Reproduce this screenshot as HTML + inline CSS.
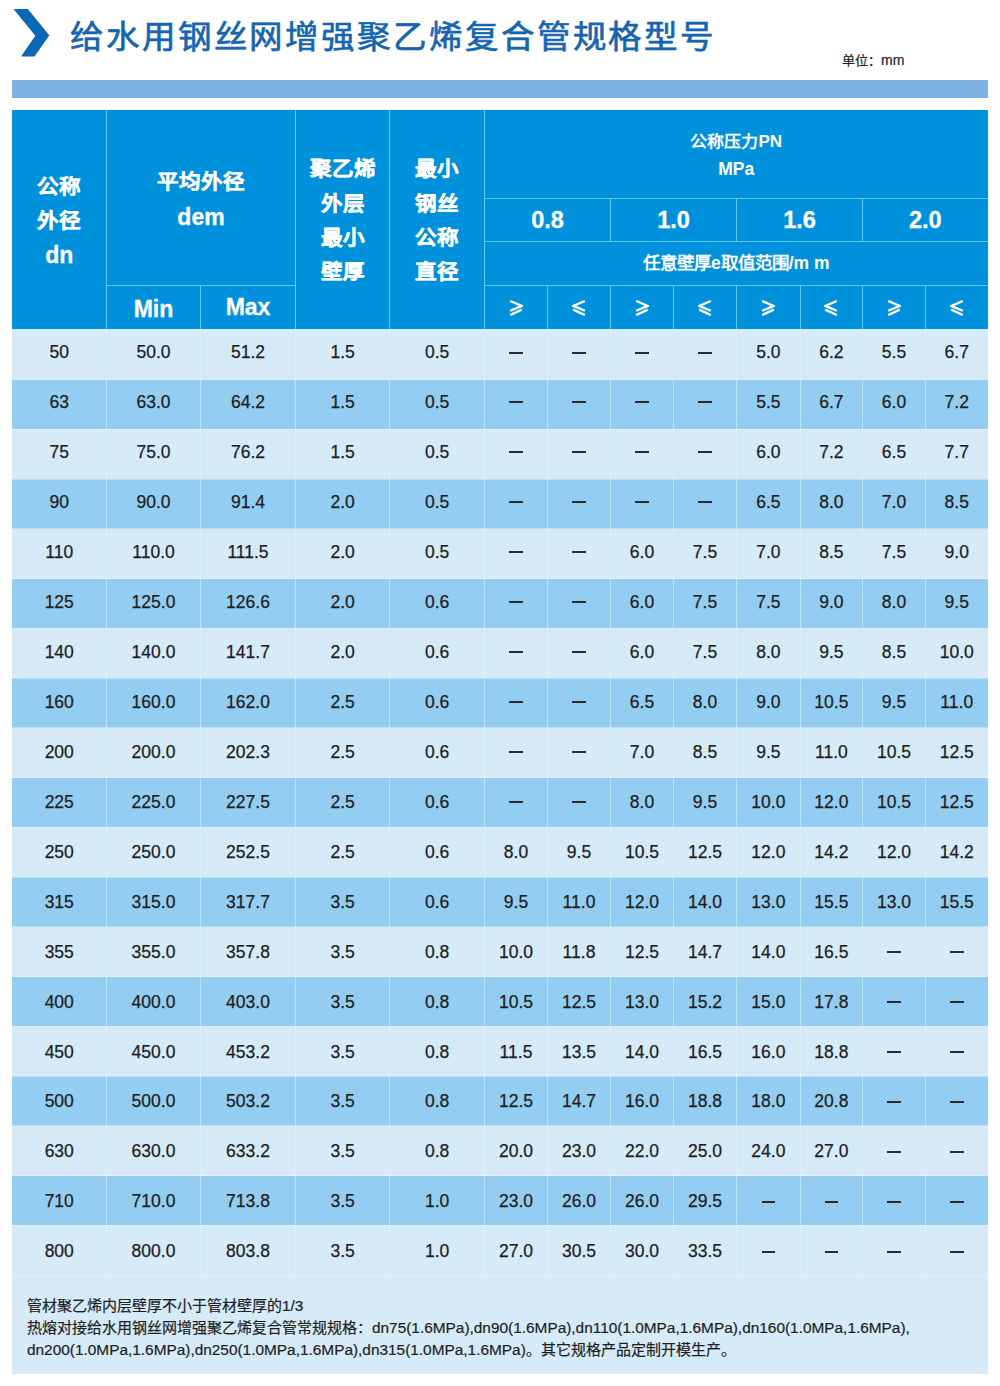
<!DOCTYPE html>
<html lang="zh-CN"><head><meta charset="utf-8"><title>给水用钢丝网增强聚乙烯复合管规格型号</title>
<style>
html,body{margin:0;padding:0;background:#fff;}
body{width:1000px;height:1386px;position:relative;overflow:hidden;font-family:"Liberation Sans",sans-serif;}
.a{position:absolute;}
.t{position:absolute;text-align:center;white-space:nowrap;}
.h{color:#fff;font-weight:bold;}
.d{color:#1e1e1e;font-size:17.5px;line-height:20px;-webkit-text-stroke:0.25px #1e1e1e;}
.dash{position:absolute;height:2px;background:#2c2c2c;}
.lat{font-size:15.4px;}
</style></head><body>

<svg class="a" style="left:0;top:0" width="60" height="64"><polygon points="13.5,9 27.8,9 49.3,35.3 34.5,56.5 21,56.5 35.3,35.7" fill="#0b68b6"/></svg>
<div class="a" style="left:70px;top:14.8px;font-size:33.5px;line-height:46px;letter-spacing:2.9px;color:#1665b0;-webkit-text-stroke:0.7px #1665b0;white-space:nowrap;transform:scaleY(0.95);transform-origin:50% 20px">给水用钢丝网增强聚乙烯复合管规格型号</div>
<div class="a" style="left:842px;top:49.5px;font-size:13px;line-height:20px;color:#222;-webkit-text-stroke:0.2px #222;white-space:nowrap">单位：<span style="font-size:14px">mm</span></div>
<div class="a" style="left:12px;top:80px;width:976px;height:18px;background:#80b2e1"></div>
<div class="a" style="left:12px;top:110px;width:976px;height:219px;background:#0091dc"></div>
<div class="a" style="left:12px;top:329px;width:976px;height:50.74px;background:#d6eaf8"></div>
<div class="a" style="left:12px;top:379.74px;width:976px;height:49.74px;background:#93cdf2"></div>
<div class="a" style="left:12px;top:429.47px;width:976px;height:49.74px;background:#d6eaf8"></div>
<div class="a" style="left:12px;top:479.21px;width:976px;height:49.74px;background:#93cdf2"></div>
<div class="a" style="left:12px;top:528.95px;width:976px;height:49.74px;background:#d6eaf8"></div>
<div class="a" style="left:12px;top:578.68px;width:976px;height:49.74px;background:#93cdf2"></div>
<div class="a" style="left:12px;top:628.42px;width:976px;height:49.74px;background:#d6eaf8"></div>
<div class="a" style="left:12px;top:678.16px;width:976px;height:49.74px;background:#93cdf2"></div>
<div class="a" style="left:12px;top:727.89px;width:976px;height:49.74px;background:#d6eaf8"></div>
<div class="a" style="left:12px;top:777.63px;width:976px;height:49.74px;background:#93cdf2"></div>
<div class="a" style="left:12px;top:827.37px;width:976px;height:49.74px;background:#d6eaf8"></div>
<div class="a" style="left:12px;top:877.11px;width:976px;height:49.74px;background:#93cdf2"></div>
<div class="a" style="left:12px;top:926.84px;width:976px;height:49.74px;background:#d6eaf8"></div>
<div class="a" style="left:12px;top:976.58px;width:976px;height:49.74px;background:#93cdf2"></div>
<div class="a" style="left:12px;top:1026.32px;width:976px;height:49.74px;background:#d6eaf8"></div>
<div class="a" style="left:12px;top:1076.05px;width:976px;height:49.74px;background:#93cdf2"></div>
<div class="a" style="left:12px;top:1125.79px;width:976px;height:49.74px;background:#d6eaf8"></div>
<div class="a" style="left:12px;top:1175.53px;width:976px;height:49.74px;background:#93cdf2"></div>
<div class="a" style="left:12px;top:1225.26px;width:976px;height:49.74px;background:#d6eaf8"></div>
<div class="a" style="left:12px;top:1275px;width:976px;height:99px;background:#d6eaf8"></div>
<div class="a" style="left:106px;top:110px;width:1px;height:219px;background:#5ccaf9"></div>
<div class="a" style="left:295px;top:110px;width:1px;height:219px;background:#5ccaf9"></div>
<div class="a" style="left:389px;top:110px;width:1px;height:219px;background:#5ccaf9"></div>
<div class="a" style="left:484px;top:110px;width:1px;height:219px;background:#5ccaf9"></div>
<div class="a" style="left:200px;top:285px;width:1px;height:44px;background:#5ccaf9"></div>
<div class="a" style="left:106px;top:285px;width:189px;height:1px;background:#5ccaf9"></div>
<div class="a" style="left:484px;top:198px;width:504px;height:1px;background:#5ccaf9"></div>
<div class="a" style="left:484px;top:241px;width:504px;height:1px;background:#5ccaf9"></div>
<div class="a" style="left:484px;top:285px;width:504px;height:1px;background:#5ccaf9"></div>
<div class="a" style="left:610px;top:198px;width:1px;height:43px;background:#5ccaf9"></div>
<div class="a" style="left:736px;top:198px;width:1px;height:43px;background:#5ccaf9"></div>
<div class="a" style="left:862px;top:198px;width:1px;height:43px;background:#5ccaf9"></div>
<div class="a" style="left:547px;top:285px;width:1px;height:44px;background:#5ccaf9"></div>
<div class="a" style="left:610px;top:285px;width:1px;height:44px;background:#5ccaf9"></div>
<div class="a" style="left:673px;top:285px;width:1px;height:44px;background:#5ccaf9"></div>
<div class="a" style="left:736px;top:285px;width:1px;height:44px;background:#5ccaf9"></div>
<div class="a" style="left:800px;top:285px;width:1px;height:44px;background:#5ccaf9"></div>
<div class="a" style="left:862px;top:285px;width:1px;height:44px;background:#5ccaf9"></div>
<div class="a" style="left:925px;top:285px;width:1px;height:44px;background:#5ccaf9"></div>
<div class="a" style="left:106px;top:329px;width:1px;height:946px;background:rgba(215,250,255,0.55)"></div>
<div class="a" style="left:200px;top:329px;width:1px;height:946px;background:rgba(215,250,255,0.55)"></div>
<div class="a" style="left:295px;top:329px;width:1px;height:946px;background:rgba(215,250,255,0.55)"></div>
<div class="a" style="left:389px;top:329px;width:1px;height:946px;background:rgba(215,250,255,0.55)"></div>
<div class="a" style="left:484px;top:329px;width:1px;height:946px;background:rgba(215,250,255,0.55)"></div>
<div class="a" style="left:547px;top:329px;width:1px;height:946px;background:rgba(215,250,255,0.55)"></div>
<div class="a" style="left:610px;top:329px;width:1px;height:946px;background:rgba(215,250,255,0.55)"></div>
<div class="a" style="left:673px;top:329px;width:1px;height:946px;background:rgba(215,250,255,0.55)"></div>
<div class="a" style="left:736px;top:329px;width:1px;height:946px;background:rgba(215,250,255,0.55)"></div>
<div class="a" style="left:800px;top:329px;width:1px;height:946px;background:rgba(215,250,255,0.55)"></div>
<div class="a" style="left:862px;top:329px;width:1px;height:946px;background:rgba(215,250,255,0.55)"></div>
<div class="a" style="left:925px;top:329px;width:1px;height:946px;background:rgba(215,250,255,0.55)"></div>
<div class="a" style="left:12px;top:379px;width:976px;height:1px;background:rgba(255,255,255,0.35)"></div>
<div class="a" style="left:12px;top:429px;width:976px;height:1px;background:rgba(255,255,255,0.35)"></div>
<div class="a" style="left:12px;top:479px;width:976px;height:1px;background:rgba(255,255,255,0.35)"></div>
<div class="a" style="left:12px;top:528px;width:976px;height:1px;background:rgba(255,255,255,0.35)"></div>
<div class="a" style="left:12px;top:578px;width:976px;height:1px;background:rgba(255,255,255,0.35)"></div>
<div class="a" style="left:12px;top:628px;width:976px;height:1px;background:rgba(255,255,255,0.35)"></div>
<div class="a" style="left:12px;top:678px;width:976px;height:1px;background:rgba(255,255,255,0.35)"></div>
<div class="a" style="left:12px;top:727px;width:976px;height:1px;background:rgba(255,255,255,0.35)"></div>
<div class="a" style="left:12px;top:777px;width:976px;height:1px;background:rgba(255,255,255,0.35)"></div>
<div class="a" style="left:12px;top:827px;width:976px;height:1px;background:rgba(255,255,255,0.35)"></div>
<div class="a" style="left:12px;top:877px;width:976px;height:1px;background:rgba(255,255,255,0.35)"></div>
<div class="a" style="left:12px;top:926px;width:976px;height:1px;background:rgba(255,255,255,0.35)"></div>
<div class="a" style="left:12px;top:976px;width:976px;height:1px;background:rgba(255,255,255,0.35)"></div>
<div class="a" style="left:12px;top:1026px;width:976px;height:1px;background:rgba(255,255,255,0.35)"></div>
<div class="a" style="left:12px;top:1076px;width:976px;height:1px;background:rgba(255,255,255,0.35)"></div>
<div class="a" style="left:12px;top:1125px;width:976px;height:1px;background:rgba(255,255,255,0.35)"></div>
<div class="a" style="left:12px;top:1175px;width:976px;height:1px;background:rgba(255,255,255,0.35)"></div>
<div class="a" style="left:12px;top:1225px;width:976px;height:1px;background:rgba(255,255,255,0.35)"></div>
<div class="a" style="left:12px;top:1275px;width:976px;height:1px;background:rgba(255,255,255,0.35)"></div>
<div class="a" style="left:12px;top:329px;width:976px;height:1px;background:#c4edfb"></div>
<div class="a" style="left:12px;top:330px;width:976px;height:1px;background:#daf1fb"></div>
<div class="t h" style="left:12px;width:94.5px;top:171.75px;font-size:21.5px;line-height:30px;transform:scaleY(0.94);-webkit-text-stroke:0.45px #fff;">公称</div>
<div class="t h" style="left:12px;width:94.5px;top:206px;font-size:21.5px;line-height:30px;transform:scaleY(0.94);-webkit-text-stroke:0.45px #fff;">外径</div>
<div class="t h" style="left:12px;width:94.5px;top:240.25px;font-size:23px;line-height:30px;-webkit-text-stroke:0.3px #fff;">dn</div>
<div class="t h" style="left:106.5px;width:189px;top:167.25px;font-size:21.5px;line-height:30px;transform:scaleY(0.94);-webkit-text-stroke:0.45px #fff;">平均外径</div>
<div class="t h" style="left:106.5px;width:189px;top:201.5px;font-size:23px;line-height:30px;-webkit-text-stroke:0.3px #fff;">dem</div>
<div class="t h" style="left:106.5px;width:94px;top:293.5px;font-size:23px;line-height:30px;-webkit-text-stroke:0.3px #fff;">Min</div>
<div class="t h" style="left:200.5px;width:95px;top:292px;font-size:23px;line-height:30px;-webkit-text-stroke:0.3px #fff;">Max</div>
<div class="t h" style="left:295.5px;width:94.3px;top:153.75px;font-size:21.5px;line-height:30px;transform:scaleY(0.94);-webkit-text-stroke:0.45px #fff;">聚乙烯</div>
<div class="t h" style="left:389.8px;width:94.7px;top:154px;font-size:21.5px;line-height:30px;transform:scaleY(0.94);-webkit-text-stroke:0.45px #fff;">最小</div>
<div class="t h" style="left:295.5px;width:94.3px;top:188.75px;font-size:21.5px;line-height:30px;transform:scaleY(0.94);-webkit-text-stroke:0.45px #fff;">外层</div>
<div class="t h" style="left:389.8px;width:94.7px;top:189px;font-size:21.5px;line-height:30px;transform:scaleY(0.94);-webkit-text-stroke:0.45px #fff;">钢丝</div>
<div class="t h" style="left:295.5px;width:94.3px;top:222.75px;font-size:21.5px;line-height:30px;transform:scaleY(0.94);-webkit-text-stroke:0.45px #fff;">最小</div>
<div class="t h" style="left:389.8px;width:94.7px;top:223px;font-size:21.5px;line-height:30px;transform:scaleY(0.94);-webkit-text-stroke:0.45px #fff;">公称</div>
<div class="t h" style="left:295.5px;width:94.3px;top:257.25px;font-size:21.5px;line-height:30px;transform:scaleY(0.94);-webkit-text-stroke:0.45px #fff;">壁厚</div>
<div class="t h" style="left:389.8px;width:94.7px;top:257px;font-size:21.5px;line-height:30px;transform:scaleY(0.94);-webkit-text-stroke:0.45px #fff;">直径</div>
<div class="t h" style="left:484.5px;width:503.5px;top:127px;font-size:17px;line-height:30px;transform:scaleY(0.94);">公称压力PN</div>
<div class="t h" style="left:484.5px;width:503.5px;top:154px;font-size:17.5px;line-height:30px;">MPa</div>
<div class="t h" style="left:484.5px;width:126px;top:205.25px;font-size:23.5px;line-height:30px;-webkit-text-stroke:0.3px #fff;">0.8</div>
<div class="t h" style="left:610.5px;width:126px;top:205.25px;font-size:23.5px;line-height:30px;-webkit-text-stroke:0.3px #fff;">1.0</div>
<div class="t h" style="left:736.5px;width:126px;top:205.25px;font-size:23.5px;line-height:30px;-webkit-text-stroke:0.3px #fff;">1.6</div>
<div class="t h" style="left:862.5px;width:125.5px;top:205.25px;font-size:23.5px;line-height:30px;-webkit-text-stroke:0.3px #fff;">2.0</div>
<div class="t h" style="left:484.5px;width:503.5px;top:248px;font-size:17.5px;line-height:30px;">任意壁厚e取值范围/m m</div>
<div class="a" style="left:509px;top:300px;width:14px;height:16px"><svg width="14" height="16" viewBox="0 0 14 16"><path d="M1.2 1 L12.8 5.9 L1.2 10.8 M1.2 15 L12.8 9.6" stroke="#fff" stroke-width="2.3" fill="none"/></svg></div>
<div class="a" style="left:572px;top:300px;width:14px;height:16px"><svg width="14" height="16" viewBox="0 0 14 16"><path d="M12.8 1 L1.2 5.9 L12.8 10.8 M12.8 15 L1.2 9.6" stroke="#fff" stroke-width="2.3" fill="none"/></svg></div>
<div class="a" style="left:635px;top:300px;width:14px;height:16px"><svg width="14" height="16" viewBox="0 0 14 16"><path d="M1.2 1 L12.8 5.9 L1.2 10.8 M1.2 15 L12.8 9.6" stroke="#fff" stroke-width="2.3" fill="none"/></svg></div>
<div class="a" style="left:698px;top:300px;width:14px;height:16px"><svg width="14" height="16" viewBox="0 0 14 16"><path d="M12.8 1 L1.2 5.9 L12.8 10.8 M12.8 15 L1.2 9.6" stroke="#fff" stroke-width="2.3" fill="none"/></svg></div>
<div class="a" style="left:761.4px;top:300px;width:14px;height:16px"><svg width="14" height="16" viewBox="0 0 14 16"><path d="M1.2 1 L12.8 5.9 L1.2 10.8 M1.2 15 L12.8 9.6" stroke="#fff" stroke-width="2.3" fill="none"/></svg></div>
<div class="a" style="left:824.4px;top:300px;width:14px;height:16px"><svg width="14" height="16" viewBox="0 0 14 16"><path d="M12.8 1 L1.2 5.9 L12.8 10.8 M12.8 15 L1.2 9.6" stroke="#fff" stroke-width="2.3" fill="none"/></svg></div>
<div class="a" style="left:887px;top:300px;width:14px;height:16px"><svg width="14" height="16" viewBox="0 0 14 16"><path d="M1.2 1 L12.8 5.9 L1.2 10.8 M1.2 15 L12.8 9.6" stroke="#fff" stroke-width="2.3" fill="none"/></svg></div>
<div class="a" style="left:949.75px;top:300px;width:14px;height:16px"><svg width="14" height="16" viewBox="0 0 14 16"><path d="M12.8 1 L1.2 5.9 L12.8 10.8 M12.8 15 L1.2 9.6" stroke="#fff" stroke-width="2.3" fill="none"/></svg></div>
<div class="t d" style="left:12px;width:94.5px;top:342.07px">50</div>
<div class="t d" style="left:106.5px;width:94px;top:342.07px">50.0</div>
<div class="t d" style="left:200.5px;width:95px;top:342.07px">51.2</div>
<div class="t d" style="left:295.5px;width:94.3px;top:342.07px">1.5</div>
<div class="t d" style="left:389.8px;width:94.7px;top:342.07px">0.5</div>
<div class="dash" style="left:509.2px;top:352px;width:13.6px"></div>
<div class="dash" style="left:572.2px;top:352px;width:13.6px"></div>
<div class="dash" style="left:635.2px;top:352px;width:13.6px"></div>
<div class="dash" style="left:698.2px;top:352px;width:13.6px"></div>
<div class="t d" style="left:736.5px;width:63.8px;top:342.07px">5.0</div>
<div class="t d" style="left:800.3px;width:62.2px;top:342.07px">6.2</div>
<div class="t d" style="left:862.5px;width:63px;top:342.07px">5.5</div>
<div class="t d" style="left:925.5px;width:62.5px;top:342.07px">6.7</div>
<div class="t d" style="left:12px;width:94.5px;top:392.03px">63</div>
<div class="t d" style="left:106.5px;width:94px;top:392.03px">63.0</div>
<div class="t d" style="left:200.5px;width:95px;top:392.03px">64.2</div>
<div class="t d" style="left:295.5px;width:94.3px;top:392.03px">1.5</div>
<div class="t d" style="left:389.8px;width:94.7px;top:392.03px">0.5</div>
<div class="dash" style="left:509.2px;top:401px;width:13.6px"></div>
<div class="dash" style="left:572.2px;top:401px;width:13.6px"></div>
<div class="dash" style="left:635.2px;top:401px;width:13.6px"></div>
<div class="dash" style="left:698.2px;top:401px;width:13.6px"></div>
<div class="t d" style="left:736.5px;width:63.8px;top:392.03px">5.5</div>
<div class="t d" style="left:800.3px;width:62.2px;top:392.03px">6.7</div>
<div class="t d" style="left:862.5px;width:63px;top:392.03px">6.0</div>
<div class="t d" style="left:925.5px;width:62.5px;top:392.03px">7.2</div>
<div class="t d" style="left:12px;width:94.5px;top:441.99px">75</div>
<div class="t d" style="left:106.5px;width:94px;top:441.99px">75.0</div>
<div class="t d" style="left:200.5px;width:95px;top:441.99px">76.2</div>
<div class="t d" style="left:295.5px;width:94.3px;top:441.99px">1.5</div>
<div class="t d" style="left:389.8px;width:94.7px;top:441.99px">0.5</div>
<div class="dash" style="left:509.2px;top:451px;width:13.6px"></div>
<div class="dash" style="left:572.2px;top:451px;width:13.6px"></div>
<div class="dash" style="left:635.2px;top:451px;width:13.6px"></div>
<div class="dash" style="left:698.2px;top:451px;width:13.6px"></div>
<div class="t d" style="left:736.5px;width:63.8px;top:441.99px">6.0</div>
<div class="t d" style="left:800.3px;width:62.2px;top:441.99px">7.2</div>
<div class="t d" style="left:862.5px;width:63px;top:441.99px">6.5</div>
<div class="t d" style="left:925.5px;width:62.5px;top:441.99px">7.7</div>
<div class="t d" style="left:12px;width:94.5px;top:491.95px">90</div>
<div class="t d" style="left:106.5px;width:94px;top:491.95px">90.0</div>
<div class="t d" style="left:200.5px;width:95px;top:491.95px">91.4</div>
<div class="t d" style="left:295.5px;width:94.3px;top:491.95px">2.0</div>
<div class="t d" style="left:389.8px;width:94.7px;top:491.95px">0.5</div>
<div class="dash" style="left:509.2px;top:501px;width:13.6px"></div>
<div class="dash" style="left:572.2px;top:501px;width:13.6px"></div>
<div class="dash" style="left:635.2px;top:501px;width:13.6px"></div>
<div class="dash" style="left:698.2px;top:501px;width:13.6px"></div>
<div class="t d" style="left:736.5px;width:63.8px;top:491.95px">6.5</div>
<div class="t d" style="left:800.3px;width:62.2px;top:491.95px">8.0</div>
<div class="t d" style="left:862.5px;width:63px;top:491.95px">7.0</div>
<div class="t d" style="left:925.5px;width:62.5px;top:491.95px">8.5</div>
<div class="t d" style="left:12px;width:94.5px;top:541.91px">110</div>
<div class="t d" style="left:106.5px;width:94px;top:541.91px">110.0</div>
<div class="t d" style="left:200.5px;width:95px;top:541.91px">111.5</div>
<div class="t d" style="left:295.5px;width:94.3px;top:541.91px">2.0</div>
<div class="t d" style="left:389.8px;width:94.7px;top:541.91px">0.5</div>
<div class="dash" style="left:509.2px;top:551px;width:13.6px"></div>
<div class="dash" style="left:572.2px;top:551px;width:13.6px"></div>
<div class="t d" style="left:610.5px;width:63px;top:541.91px">6.0</div>
<div class="t d" style="left:673.5px;width:63px;top:541.91px">7.5</div>
<div class="t d" style="left:736.5px;width:63.8px;top:541.91px">7.0</div>
<div class="t d" style="left:800.3px;width:62.2px;top:541.91px">8.5</div>
<div class="t d" style="left:862.5px;width:63px;top:541.91px">7.5</div>
<div class="t d" style="left:925.5px;width:62.5px;top:541.91px">9.0</div>
<div class="t d" style="left:12px;width:94.5px;top:591.87px">125</div>
<div class="t d" style="left:106.5px;width:94px;top:591.87px">125.0</div>
<div class="t d" style="left:200.5px;width:95px;top:591.87px">126.6</div>
<div class="t d" style="left:295.5px;width:94.3px;top:591.87px">2.0</div>
<div class="t d" style="left:389.8px;width:94.7px;top:591.87px">0.6</div>
<div class="dash" style="left:509.2px;top:601px;width:13.6px"></div>
<div class="dash" style="left:572.2px;top:601px;width:13.6px"></div>
<div class="t d" style="left:610.5px;width:63px;top:591.87px">6.0</div>
<div class="t d" style="left:673.5px;width:63px;top:591.87px">7.5</div>
<div class="t d" style="left:736.5px;width:63.8px;top:591.87px">7.5</div>
<div class="t d" style="left:800.3px;width:62.2px;top:591.87px">9.0</div>
<div class="t d" style="left:862.5px;width:63px;top:591.87px">8.0</div>
<div class="t d" style="left:925.5px;width:62.5px;top:591.87px">9.5</div>
<div class="t d" style="left:12px;width:94.5px;top:641.83px">140</div>
<div class="t d" style="left:106.5px;width:94px;top:641.83px">140.0</div>
<div class="t d" style="left:200.5px;width:95px;top:641.83px">141.7</div>
<div class="t d" style="left:295.5px;width:94.3px;top:641.83px">2.0</div>
<div class="t d" style="left:389.8px;width:94.7px;top:641.83px">0.6</div>
<div class="dash" style="left:509.2px;top:651px;width:13.6px"></div>
<div class="dash" style="left:572.2px;top:651px;width:13.6px"></div>
<div class="t d" style="left:610.5px;width:63px;top:641.83px">6.0</div>
<div class="t d" style="left:673.5px;width:63px;top:641.83px">7.5</div>
<div class="t d" style="left:736.5px;width:63.8px;top:641.83px">8.0</div>
<div class="t d" style="left:800.3px;width:62.2px;top:641.83px">9.5</div>
<div class="t d" style="left:862.5px;width:63px;top:641.83px">8.5</div>
<div class="t d" style="left:925.5px;width:62.5px;top:641.83px">10.0</div>
<div class="t d" style="left:12px;width:94.5px;top:691.79px">160</div>
<div class="t d" style="left:106.5px;width:94px;top:691.79px">160.0</div>
<div class="t d" style="left:200.5px;width:95px;top:691.79px">162.0</div>
<div class="t d" style="left:295.5px;width:94.3px;top:691.79px">2.5</div>
<div class="t d" style="left:389.8px;width:94.7px;top:691.79px">0.6</div>
<div class="dash" style="left:509.2px;top:701px;width:13.6px"></div>
<div class="dash" style="left:572.2px;top:701px;width:13.6px"></div>
<div class="t d" style="left:610.5px;width:63px;top:691.79px">6.5</div>
<div class="t d" style="left:673.5px;width:63px;top:691.79px">8.0</div>
<div class="t d" style="left:736.5px;width:63.8px;top:691.79px">9.0</div>
<div class="t d" style="left:800.3px;width:62.2px;top:691.79px">10.5</div>
<div class="t d" style="left:862.5px;width:63px;top:691.79px">9.5</div>
<div class="t d" style="left:925.5px;width:62.5px;top:691.79px">11.0</div>
<div class="t d" style="left:12px;width:94.5px;top:741.75px">200</div>
<div class="t d" style="left:106.5px;width:94px;top:741.75px">200.0</div>
<div class="t d" style="left:200.5px;width:95px;top:741.75px">202.3</div>
<div class="t d" style="left:295.5px;width:94.3px;top:741.75px">2.5</div>
<div class="t d" style="left:389.8px;width:94.7px;top:741.75px">0.6</div>
<div class="dash" style="left:509.2px;top:751px;width:13.6px"></div>
<div class="dash" style="left:572.2px;top:751px;width:13.6px"></div>
<div class="t d" style="left:610.5px;width:63px;top:741.75px">7.0</div>
<div class="t d" style="left:673.5px;width:63px;top:741.75px">8.5</div>
<div class="t d" style="left:736.5px;width:63.8px;top:741.75px">9.5</div>
<div class="t d" style="left:800.3px;width:62.2px;top:741.75px">11.0</div>
<div class="t d" style="left:862.5px;width:63px;top:741.75px">10.5</div>
<div class="t d" style="left:925.5px;width:62.5px;top:741.75px">12.5</div>
<div class="t d" style="left:12px;width:94.5px;top:791.71px">225</div>
<div class="t d" style="left:106.5px;width:94px;top:791.71px">225.0</div>
<div class="t d" style="left:200.5px;width:95px;top:791.71px">227.5</div>
<div class="t d" style="left:295.5px;width:94.3px;top:791.71px">2.5</div>
<div class="t d" style="left:389.8px;width:94.7px;top:791.71px">0.6</div>
<div class="dash" style="left:509.2px;top:801px;width:13.6px"></div>
<div class="dash" style="left:572.2px;top:801px;width:13.6px"></div>
<div class="t d" style="left:610.5px;width:63px;top:791.71px">8.0</div>
<div class="t d" style="left:673.5px;width:63px;top:791.71px">9.5</div>
<div class="t d" style="left:736.5px;width:63.8px;top:791.71px">10.0</div>
<div class="t d" style="left:800.3px;width:62.2px;top:791.71px">12.0</div>
<div class="t d" style="left:862.5px;width:63px;top:791.71px">10.5</div>
<div class="t d" style="left:925.5px;width:62.5px;top:791.71px">12.5</div>
<div class="t d" style="left:12px;width:94.5px;top:841.67px">250</div>
<div class="t d" style="left:106.5px;width:94px;top:841.67px">250.0</div>
<div class="t d" style="left:200.5px;width:95px;top:841.67px">252.5</div>
<div class="t d" style="left:295.5px;width:94.3px;top:841.67px">2.5</div>
<div class="t d" style="left:389.8px;width:94.7px;top:841.67px">0.6</div>
<div class="t d" style="left:484.5px;width:63px;top:841.67px">8.0</div>
<div class="t d" style="left:547.5px;width:63px;top:841.67px">9.5</div>
<div class="t d" style="left:610.5px;width:63px;top:841.67px">10.5</div>
<div class="t d" style="left:673.5px;width:63px;top:841.67px">12.5</div>
<div class="t d" style="left:736.5px;width:63.8px;top:841.67px">12.0</div>
<div class="t d" style="left:800.3px;width:62.2px;top:841.67px">14.2</div>
<div class="t d" style="left:862.5px;width:63px;top:841.67px">12.0</div>
<div class="t d" style="left:925.5px;width:62.5px;top:841.67px">14.2</div>
<div class="t d" style="left:12px;width:94.5px;top:891.63px">315</div>
<div class="t d" style="left:106.5px;width:94px;top:891.63px">315.0</div>
<div class="t d" style="left:200.5px;width:95px;top:891.63px">317.7</div>
<div class="t d" style="left:295.5px;width:94.3px;top:891.63px">3.5</div>
<div class="t d" style="left:389.8px;width:94.7px;top:891.63px">0.6</div>
<div class="t d" style="left:484.5px;width:63px;top:891.63px">9.5</div>
<div class="t d" style="left:547.5px;width:63px;top:891.63px">11.0</div>
<div class="t d" style="left:610.5px;width:63px;top:891.63px">12.0</div>
<div class="t d" style="left:673.5px;width:63px;top:891.63px">14.0</div>
<div class="t d" style="left:736.5px;width:63.8px;top:891.63px">13.0</div>
<div class="t d" style="left:800.3px;width:62.2px;top:891.63px">15.5</div>
<div class="t d" style="left:862.5px;width:63px;top:891.63px">13.0</div>
<div class="t d" style="left:925.5px;width:62.5px;top:891.63px">15.5</div>
<div class="t d" style="left:12px;width:94.5px;top:941.59px">355</div>
<div class="t d" style="left:106.5px;width:94px;top:941.59px">355.0</div>
<div class="t d" style="left:200.5px;width:95px;top:941.59px">357.8</div>
<div class="t d" style="left:295.5px;width:94.3px;top:941.59px">3.5</div>
<div class="t d" style="left:389.8px;width:94.7px;top:941.59px">0.8</div>
<div class="t d" style="left:484.5px;width:63px;top:941.59px">10.0</div>
<div class="t d" style="left:547.5px;width:63px;top:941.59px">11.8</div>
<div class="t d" style="left:610.5px;width:63px;top:941.59px">12.5</div>
<div class="t d" style="left:673.5px;width:63px;top:941.59px">14.7</div>
<div class="t d" style="left:736.5px;width:63.8px;top:941.59px">14.0</div>
<div class="t d" style="left:800.3px;width:62.2px;top:941.59px">16.5</div>
<div class="dash" style="left:887.2px;top:951px;width:13.6px"></div>
<div class="dash" style="left:949.95px;top:951px;width:13.6px"></div>
<div class="t d" style="left:12px;width:94.5px;top:991.55px">400</div>
<div class="t d" style="left:106.5px;width:94px;top:991.55px">400.0</div>
<div class="t d" style="left:200.5px;width:95px;top:991.55px">403.0</div>
<div class="t d" style="left:295.5px;width:94.3px;top:991.55px">3.5</div>
<div class="t d" style="left:389.8px;width:94.7px;top:991.55px">0.8</div>
<div class="t d" style="left:484.5px;width:63px;top:991.55px">10.5</div>
<div class="t d" style="left:547.5px;width:63px;top:991.55px">12.5</div>
<div class="t d" style="left:610.5px;width:63px;top:991.55px">13.0</div>
<div class="t d" style="left:673.5px;width:63px;top:991.55px">15.2</div>
<div class="t d" style="left:736.5px;width:63.8px;top:991.55px">15.0</div>
<div class="t d" style="left:800.3px;width:62.2px;top:991.55px">17.8</div>
<div class="dash" style="left:887.2px;top:1001px;width:13.6px"></div>
<div class="dash" style="left:949.95px;top:1001px;width:13.6px"></div>
<div class="t d" style="left:12px;width:94.5px;top:1041.51px">450</div>
<div class="t d" style="left:106.5px;width:94px;top:1041.51px">450.0</div>
<div class="t d" style="left:200.5px;width:95px;top:1041.51px">453.2</div>
<div class="t d" style="left:295.5px;width:94.3px;top:1041.51px">3.5</div>
<div class="t d" style="left:389.8px;width:94.7px;top:1041.51px">0.8</div>
<div class="t d" style="left:484.5px;width:63px;top:1041.51px">11.5</div>
<div class="t d" style="left:547.5px;width:63px;top:1041.51px">13.5</div>
<div class="t d" style="left:610.5px;width:63px;top:1041.51px">14.0</div>
<div class="t d" style="left:673.5px;width:63px;top:1041.51px">16.5</div>
<div class="t d" style="left:736.5px;width:63.8px;top:1041.51px">16.0</div>
<div class="t d" style="left:800.3px;width:62.2px;top:1041.51px">18.8</div>
<div class="dash" style="left:887.2px;top:1051px;width:13.6px"></div>
<div class="dash" style="left:949.95px;top:1051px;width:13.6px"></div>
<div class="t d" style="left:12px;width:94.5px;top:1091.47px">500</div>
<div class="t d" style="left:106.5px;width:94px;top:1091.47px">500.0</div>
<div class="t d" style="left:200.5px;width:95px;top:1091.47px">503.2</div>
<div class="t d" style="left:295.5px;width:94.3px;top:1091.47px">3.5</div>
<div class="t d" style="left:389.8px;width:94.7px;top:1091.47px">0.8</div>
<div class="t d" style="left:484.5px;width:63px;top:1091.47px">12.5</div>
<div class="t d" style="left:547.5px;width:63px;top:1091.47px">14.7</div>
<div class="t d" style="left:610.5px;width:63px;top:1091.47px">16.0</div>
<div class="t d" style="left:673.5px;width:63px;top:1091.47px">18.8</div>
<div class="t d" style="left:736.5px;width:63.8px;top:1091.47px">18.0</div>
<div class="t d" style="left:800.3px;width:62.2px;top:1091.47px">20.8</div>
<div class="dash" style="left:887.2px;top:1101px;width:13.6px"></div>
<div class="dash" style="left:949.95px;top:1101px;width:13.6px"></div>
<div class="t d" style="left:12px;width:94.5px;top:1141.43px">630</div>
<div class="t d" style="left:106.5px;width:94px;top:1141.43px">630.0</div>
<div class="t d" style="left:200.5px;width:95px;top:1141.43px">633.2</div>
<div class="t d" style="left:295.5px;width:94.3px;top:1141.43px">3.5</div>
<div class="t d" style="left:389.8px;width:94.7px;top:1141.43px">0.8</div>
<div class="t d" style="left:484.5px;width:63px;top:1141.43px">20.0</div>
<div class="t d" style="left:547.5px;width:63px;top:1141.43px">23.0</div>
<div class="t d" style="left:610.5px;width:63px;top:1141.43px">22.0</div>
<div class="t d" style="left:673.5px;width:63px;top:1141.43px">25.0</div>
<div class="t d" style="left:736.5px;width:63.8px;top:1141.43px">24.0</div>
<div class="t d" style="left:800.3px;width:62.2px;top:1141.43px">27.0</div>
<div class="dash" style="left:887.2px;top:1151px;width:13.6px"></div>
<div class="dash" style="left:949.95px;top:1151px;width:13.6px"></div>
<div class="t d" style="left:12px;width:94.5px;top:1191.39px">710</div>
<div class="t d" style="left:106.5px;width:94px;top:1191.39px">710.0</div>
<div class="t d" style="left:200.5px;width:95px;top:1191.39px">713.8</div>
<div class="t d" style="left:295.5px;width:94.3px;top:1191.39px">3.5</div>
<div class="t d" style="left:389.8px;width:94.7px;top:1191.39px">1.0</div>
<div class="t d" style="left:484.5px;width:63px;top:1191.39px">23.0</div>
<div class="t d" style="left:547.5px;width:63px;top:1191.39px">26.0</div>
<div class="t d" style="left:610.5px;width:63px;top:1191.39px">26.0</div>
<div class="t d" style="left:673.5px;width:63px;top:1191.39px">29.5</div>
<div class="dash" style="left:761.6px;top:1201px;width:13.6px"></div>
<div class="dash" style="left:824.6px;top:1201px;width:13.6px"></div>
<div class="dash" style="left:887.2px;top:1201px;width:13.6px"></div>
<div class="dash" style="left:949.95px;top:1201px;width:13.6px"></div>
<div class="t d" style="left:12px;width:94.5px;top:1241.35px">800</div>
<div class="t d" style="left:106.5px;width:94px;top:1241.35px">800.0</div>
<div class="t d" style="left:200.5px;width:95px;top:1241.35px">803.8</div>
<div class="t d" style="left:295.5px;width:94.3px;top:1241.35px">3.5</div>
<div class="t d" style="left:389.8px;width:94.7px;top:1241.35px">1.0</div>
<div class="t d" style="left:484.5px;width:63px;top:1241.35px">27.0</div>
<div class="t d" style="left:547.5px;width:63px;top:1241.35px">30.5</div>
<div class="t d" style="left:610.5px;width:63px;top:1241.35px">30.0</div>
<div class="t d" style="left:673.5px;width:63px;top:1241.35px">33.5</div>
<div class="dash" style="left:761.6px;top:1251px;width:13.6px"></div>
<div class="dash" style="left:824.6px;top:1251px;width:13.6px"></div>
<div class="dash" style="left:887.2px;top:1251px;width:13.6px"></div>
<div class="dash" style="left:949.95px;top:1251px;width:13.6px"></div>
<div class="a" style="left:27px;top:1294.5px;font-size:15px;line-height:22px;color:#1e1e1e;-webkit-text-stroke:0.2px #1e1e1e;white-space:nowrap">管材聚乙烯内层壁厚不小于管材壁厚的<span class="lat">1/3</span></div>
<div class="a" style="left:27px;top:1316.9px;font-size:15px;line-height:22px;color:#1e1e1e;-webkit-text-stroke:0.2px #1e1e1e;white-space:nowrap">热熔对接给水用钢丝网增强聚乙烯复合管常规规格：<span class="lat">dn75(1.6MPa),dn90(1.6MPa),dn110(1.0MPa,1.6MPa),dn160(1.0MPa,1.6MPa),</span></div>
<div class="a" style="left:27px;top:1339.3px;font-size:15px;line-height:22px;color:#1e1e1e;-webkit-text-stroke:0.2px #1e1e1e;white-space:nowrap"><span class="lat">dn200(1.0MPa,1.6MPa),dn250(1.0MPa,1.6MPa),dn315(1.0MPa,1.6MPa)</span>。其它规格产品定制开模生产。</div>
</body></html>
